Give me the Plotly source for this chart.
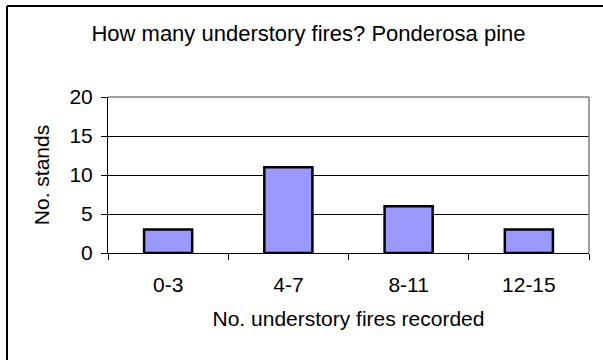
import plotly.graph_objects as go

categories = ["0-3", "4-7", "8-11", "12-15"]
stands = [3, 11, 6, 3]
y_ticks = [0, 5, 10, 15, 20]

W, H = 603, 360
L, R, T, B = 108, 14, 97, 107
pw, ph = W - L - R, H - T - B

def px(x):
    return (x - L) / pw

def py(y):
    return (H - B - y) / ph

fig = go.Figure()
fig.add_trace(go.Bar(
    x=categories, y=stands,
    marker=dict(color="#9999FF", line=dict(color="black", width=2.5)),
    width=0.4,
))

font = "Liberation Sans, Arial, sans-serif"
FS = 21
fig.update_layout(
    width=W, height=H,
    margin=dict(l=L, r=R, t=T, b=B, pad=0),
    paper_bgcolor="white", plot_bgcolor="white",
    showlegend=False,
    font=dict(family=font, size=FS, color="black"),
    bargap=0.6,
    xaxis=dict(
        type="category", range=[-0.5, 3.5],
        showgrid=False, showline=True, linecolor="black", linewidth=1,
        ticks="outside", ticklen=6, tickcolor="black", tickwidth=1,
        tickson="boundaries", ticklabelstandoff=13,
        tickfont=dict(size=FS, family=font),
        title=dict(text="No. understory fires recorded", standoff=16, font=dict(size=FS)),
    ),
    yaxis=dict(
        range=[0, 20], tickvals=y_ticks,
        showgrid=True, gridcolor="black", gridwidth=1,
        showline=True, linecolor="black", linewidth=1,
        ticks="outside", ticklen=6, tickcolor="black",
        ticklabelstandoff=4,
        tickfont=dict(size=FS, family=font),
        zeroline=False,
        title=dict(text="No. stands", standoff=14, font=dict(size=FS)),
    ),
    title=dict(text="How many understory fires? Ponderosa pine",
               x=308.5 / W, xanchor="center", xref="container",
               y=1 - 33 / H, yanchor="middle",
               font=dict(size=22, family=font)),
    shapes=[
        dict(type="line", xref="paper", yref="paper", x0=0, x1=1, y0=1, y1=1,
             line=dict(color="#808080", width=1.5)),
        dict(type="line", xref="paper", yref="paper", x0=1, x1=1, y0=0, y1=1,
             line=dict(color="#808080", width=1.5)),
        dict(type="line", xref="paper", yref="paper", x0=px(7), x1=px(610), y0=py(6), y1=py(6),
             line=dict(color="black", width=2)),
        dict(type="line", xref="paper", yref="paper", x0=px(7), x1=px(7), y0=py(6), y1=py(370),
             line=dict(color="black", width=2)),
    ],
)

fig.write_html("out.html")
